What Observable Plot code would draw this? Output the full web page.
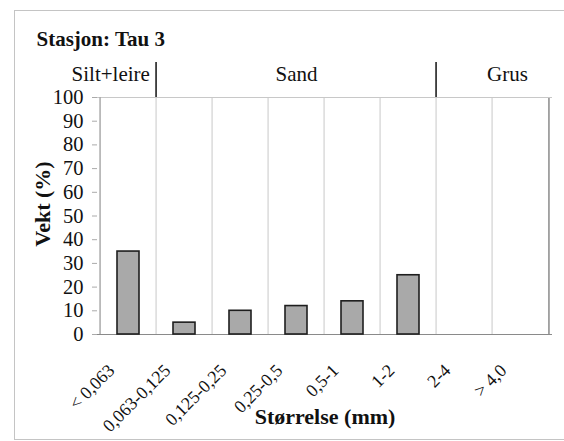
<!DOCTYPE html>
<html>
<head>
<meta charset="utf-8">
<script src="https://cdn.jsdelivr.net/npm/d3@7"></script>
<script src="https://cdn.jsdelivr.net/npm/@observablehq/plot@0.6"></script>
<style>
  html, body { margin: 0; padding: 0; background: #fff; }
  #wrap { position: relative; width: 564px; height: 441px; overflow: hidden; }
  #border { position: absolute; left: 14px; top: 10px; width: 570px; height: 430px; border: 1px solid #c4c4c4; box-sizing: border-box; }
  #chart { position: absolute; left: 0; top: 0; }
</style>
</head>
<body>
<div id="wrap"><div id="border"></div><div id="chart"></div></div>
<script>
const categories = ["< 0,063", "0,063-0,125", "0,125-0,25", "0,25-0,5", "0,5-1", "1-2", "2-4", "> 4,0"];
const values = [35, 5, 10, 12, 14, 25, 0, 0];
const yTicks = [0, 10, 20, 30, 40, 50, 60, 70, 80, 90, 100];
const groupLabels = ["Silt+leire", "Sand", "Grus"];
const groupAt = ["< 0,063", "0,25-0,5", "> 4,0"];
const separatorsAt = ["0,063-0,125", "2-4"];
const title = "Stasjon: Tau 3";
const yLabel = "Vekt (%)";
const xLabel = "Størrelse (mm)";

const data = categories.map((c, i) => ({cat: c, v: values[i]}));

const W = 564, H = 441, ML = 97, MR = 12, MT = 97, MB = 107;
const step = (W - ML - MR) / categories.length;
const font = "'Liberation Serif', 'Times New Roman', serif";

const plot = Plot.plot({
  width: W, height: H,
  marginLeft: ML, marginRight: MR, marginTop: MT, marginBottom: MB,
  style: {fontFamily: font, background: "transparent", overflow: "visible"},
  x: {domain: categories, paddingInner: 0.6, paddingOuter: 0.3, align: 0.5},
  y: {domain: [0, 100]},
  marks: [
    // vertical grid at category boundaries
    Plot.ruleX(categories, {x: d => d, dx: -step / 2, stroke: "#c8c8c8", strokeWidth: 1}),
    Plot.ruleX([categories[categories.length - 1]], {x: d => d, dx: step / 2, stroke: "#8a8a8a", strokeWidth: 1.5}),
    Plot.ruleY([100], {stroke: "#c8c8c8", strokeWidth: 1}),
    Plot.ruleX([categories[0]], {x: d => d, dx: -step / 2, stroke: "#9a9a9a", strokeWidth: 1}),
    Plot.ruleY([0], {stroke: "#8a8a8a", strokeWidth: 1.2}),
    // bars
    Plot.barY(data.filter(d => d.v > 0), {x: "cat", y: "v", fill: "#a9a9a9", stroke: "#1e1e1e", strokeWidth: 1.6}),
    // group separators and labels
    Plot.ruleX(separatorsAt, {x: d => d, dx: -step / 2, y1: 100, y2: 114.8, stroke: "#111", strokeWidth: 1.5}),
    Plot.text([groupLabels[0]], {x: () => groupAt[0], y: 110, dx: step / 2 - 7, textAnchor: "end", fontSize: 21, fill: "#111"}),
    Plot.text([groupLabels[1]], {x: () => groupAt[1], y: 110, fontSize: 21, fill: "#111"}),
    Plot.text([groupLabels[2]], {x: () => groupAt[2], y: 110, dx: -13, fontSize: 21, fill: "#111"}),
    // axes
    Plot.axisY({ticks: yTicks, tickSize: 5, tickFormat: () => "", label: null, stroke: "#aaa"}),
    Plot.text(yTicks, {y: d => d, frameAnchor: "left", textAnchor: "end", dx: -14, fontSize: 20.5, fill: "#111"}),
    Plot.axisX({tickSize: 0, tickRotate: -45, tickPadding: 33, fontSize: 18, label: null, fill: "#111", dx: -17}),
    // titles
    Plot.text([yLabel], {frameAnchor: "left", textAnchor: "middle", rotate: -90, dx: -55, dy: -12, fontSize: 22, fontWeight: "bold", fill: "#111"}),
    Plot.text([xLabel], {frameAnchor: "bottom", dx: 0, dy: 89, fontSize: 22, fontWeight: "bold", fill: "#111"}),
    Plot.text([title], {frameAnchor: "top-left", dx: 36 - ML, dy: 31 - MT, textAnchor: "start", fontSize: 21, fontWeight: "bold", fill: "#111"})
  ]
});
document.getElementById("chart").appendChild(plot);
</script>
</body>
</html>
